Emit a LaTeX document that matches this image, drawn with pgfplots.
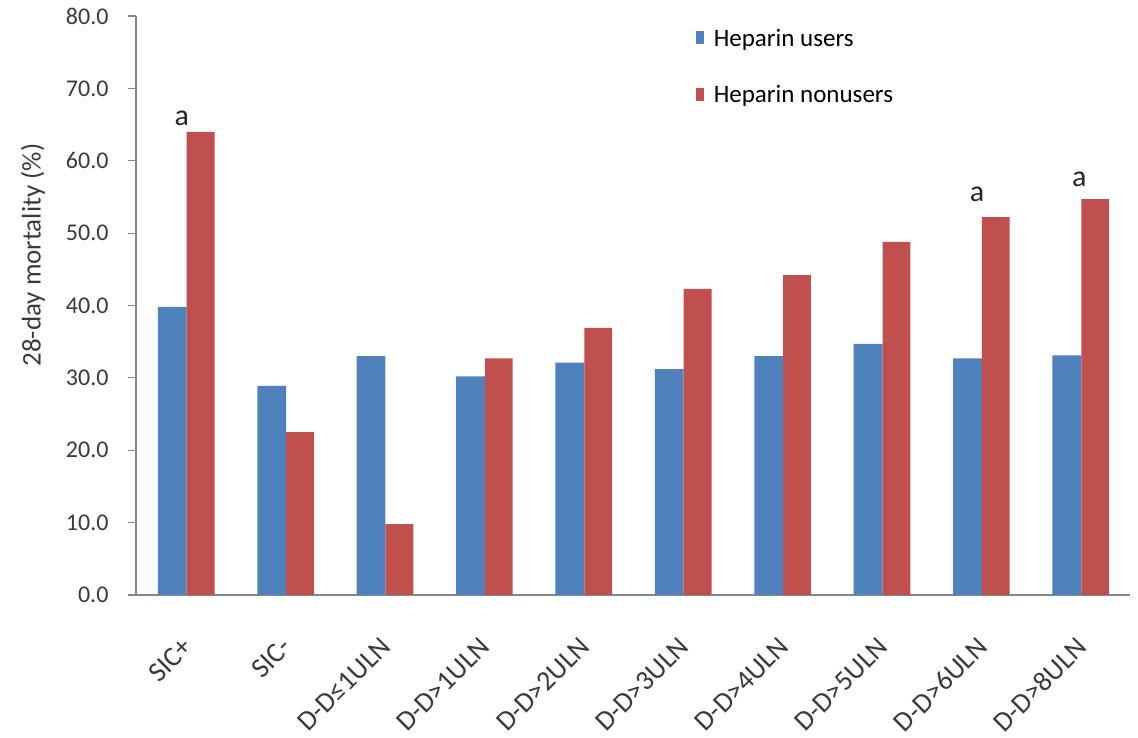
\documentclass[border=0pt]{standalone}
\usepackage{fontspec}
\setmainfont{Carlito}
\usepackage{pgfplots}
\pgfplotsset{compat=1.18}
\definecolor{users}{HTML}{4F81BD}
\definecolor{nonusers}{HTML}{C0504D}
\definecolor{axisgray}{HTML}{868686}
\definecolor{labelgray}{HTML}{3A3A3A}

\begin{document}
\begin{tikzpicture}[x=1pt,y=1pt]
\path[use as bounding box] (0,0) rectangle (1138,738);
\begin{axis}[
  at={(136pt,143pt)}, anchor=south west,
  scale only axis, width=994pt, height=579pt,
  xmin=-0.5, xmax=9.5, ymin=0, ymax=80,
  axis x line*=bottom, axis y line*=left,
  axis line style={axisgray, line width=1.2pt},
  every tick/.style={axisgray, line width=1.2pt},
  tick align=outside,
  major tick length=8pt, minor tick length=8pt,
  ytick={0,10,...,80},
  xtick={0,...,9},
  xtick style={draw=none},
  minor xtick={-0.5,0.5,...,9.5},
  xticklabels={SIC+, SIC-, D-D≤1ULN, D-D>1ULN, D-D>2ULN, D-D>3ULN, D-D>4ULN, D-D>5ULN, D-D>6ULN, D-D>8ULN},
  xticklabel style={xshift=4pt, yshift=-37pt, rotate=45, anchor=east, text=labelgray, font=\fontsize{28}{32}\selectfont},
  yticklabel style={text=labelgray, font=\fontsize{24}{28}\selectfont, xshift=-16pt},
  /pgf/number format/.cd, fixed, fixed zerofill, precision=1, assume math mode=true, /pgfplots/.cd,
  ylabel={28-day mortality (\%)},
  ylabel style={at={(rel axis cs:-0.1036,0.587)}, anchor=center, text=labelgray, font=\fontsize{27}{30}\selectfont},
  legend style={draw=none, fill=none, at={(rel axis cs:0.56,0.985)}, anchor=north west,
    font=\fontsize{25}{30}\selectfont, row sep=34pt, cells={anchor=west},
    /tikz/every odd column/.append style={column sep=8pt}},
  legend image code/.code={\fill[#1] (0pt,-6pt) rectangle (8pt,7pt);},
]
% Heparin users
\addplot[ybar, fill=users, draw=none, bar width=0.29, bar shift=-0.135]
  coordinates {(0,39.8) (1,28.9) (2,33.0) (3,30.2) (4,32.1) (5,31.2) (6,33.0) (7,34.7) (8,32.7) (9,33.1)};
\addlegendentry{Heparin users}
% Heparin nonusers
\addplot[ybar, fill=nonusers, draw=none, bar width=0.28, bar shift=0.15]
  coordinates {(0,64.0) (1,22.5) (2,9.8) (3,32.7) (4,36.9) (5,42.3) (6,44.2) (7,48.8) (8,52.2) (9,54.7)};
\addlegendentry{Heparin nonusers}
% significance markers
\node[anchor=base, inner sep=0pt, font=\fontsize{30}{32}\selectfont, text=black!85] at (axis cs:-0.04,64.9) {a};
\node[anchor=base, inner sep=0pt, font=\fontsize{30}{32}\selectfont, text=black!85] at (axis cs:7.96,54.4) {a};
\node[anchor=base, inner sep=0pt, font=\fontsize{30}{32}\selectfont, text=black!85] at (axis cs:8.99,56.4) {a};
\end{axis}
\end{tikzpicture}
\end{document}
